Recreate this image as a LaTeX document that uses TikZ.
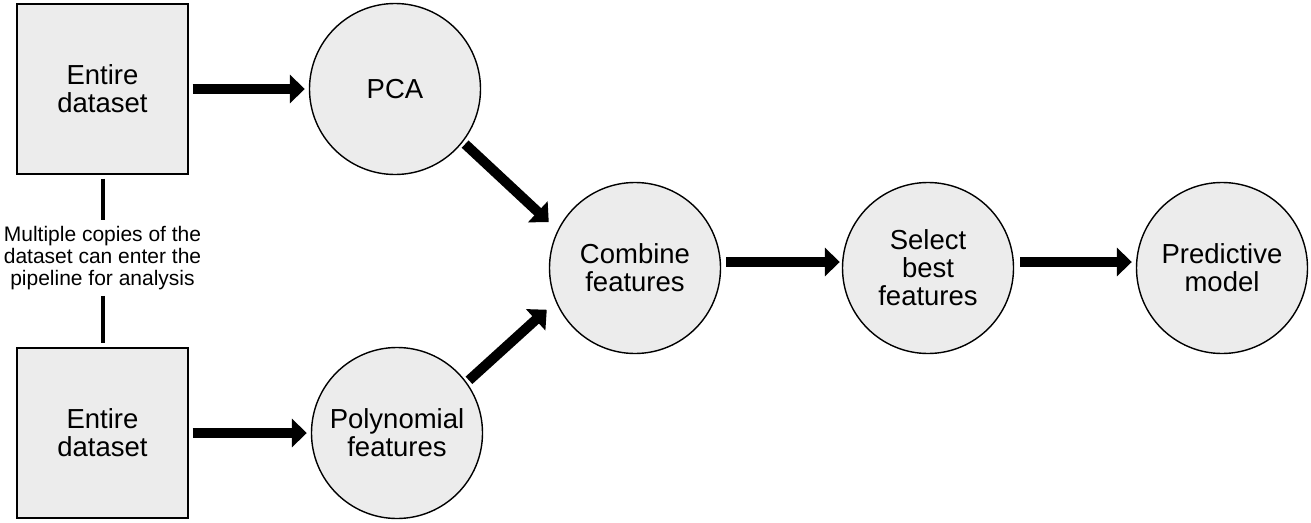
\documentclass[tikz,border=0pt]{standalone}
\usepackage{fontspec}
\setmainfont{Liberation Sans}
\usetikzlibrary{arrows.meta,positioning}

\tikzset{
  databox/.style = {draw, line width = 1.4pt, fill = gray!15, shape = rectangle, minimum width = 171pt, minimum height = 170pt, inner sep = 0pt, align = center, font = \fontsize{27.5}{28}\selectfont},
  stage/.style = {draw, line width = 1.4pt, fill = gray!15, shape = circle, minimum size = 171pt, inner sep = 0pt, align = center, font = \fontsize{27.5}{28}\selectfont},
  note/.style = {align = center, inner sep = 2pt, font = \fontsize{21}{22}\selectfont},
  flow/.style = {line width = 10pt, -{Triangle[length = 15pt, width = 28pt]}},
  link/.style = {line width = 4pt}
}

\begin{document}
\begin{tikzpicture}[x = 1pt, y = -1pt]
\useasboundingbox (0,0) rectangle (1311,522);
\node[databox] (data1) at (102.5,89) {Entire\\dataset};
\node[databox] (data2) at (102.5,433) {Entire\\dataset};
\node[stage] (pca) at (395,89) {PCA};
\node[stage] (poly) at (397,433) {Polynomial\\features};
\node[stage] (comb) at (635,268) {Combine\\features};
\node[stage] (select) at (928,268) {Select\\best\\features};
\node[stage] (model) at (1222,268) {Predictive\\model};
\node[note] (copies) at (102.5,258) {Multiple copies of the\\dataset can enter the\\pipeline for analysis};
% links between the two copies
\draw[link, shorten < = 4pt, shorten > = 4pt] (data1) -- (copies);
\draw[link, shorten < = 4pt, shorten > = 4pt] (copies) -- (data2);
% pipeline
\draw[flow, shorten < = 4pt, shorten > = 4pt] (data1) -- (pca);
\draw[flow, shorten < = 4pt, shorten > = 4pt] (data2) -- (poly);
\draw[flow, shorten < = 3pt, shorten > = 12pt] (pca.-38) -- (comb.154);
\draw[flow, shorten < = 3pt, shorten > = 12pt] (poly.36) -- (comb.203);
\draw[flow, shorten < = 5pt, shorten > = 2pt] (comb.east |- 0,262) -- (select.west |- 0,262);
\draw[flow, shorten < = 6pt, shorten > = 4pt] (select.east |- 0,262) -- (model.west |- 0,262);
\end{tikzpicture}
\end{document}
